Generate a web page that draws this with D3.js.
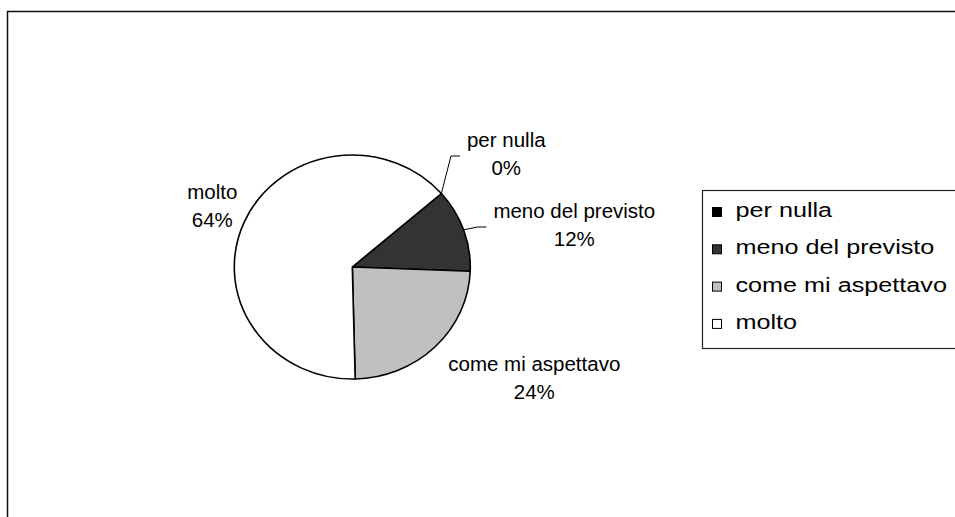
<!DOCTYPE html>
<html>
  <head>
    <meta http-equiv="Content-Type" content="text/html; charset=utf-8" />
    <style>
    body {
      margin: 0;
      background: #fff;
    }
    svg text {
      font-family: "Liberation Sans", Arial, sans-serif;
      fill: #000;
    }
    </style>
  </head>
  <body>
    <div id="chart"></div>
    <script src="https://d3js.org/d3.v7.min.js"></script>
    <script>

// data
var categories = ["per nulla", "meno del previsto", "come mi aspettavo", "molto"];
var percents = [0, 12, 24, 64];
var colours = ["#000000", "#333333", "#c0c0c0", "#ffffff"];

var width = 955, height = 517;

var svg = d3.select("#chart").append("svg")
    .attr("width", width)
    .attr("height", height);

// outer chart frame (runs off the right and bottom edge)
svg.append("rect")
    .attr("x", 7.5)
    .attr("y", 11.5)
    .attr("width", 1000)
    .attr("height", 600)
    .style("fill", "none")
    .style("stroke", "#111")
    .style("stroke-width", 1.5);

var cx = 352.3, cy = 267, rx = 118, ry = 112;
var startDeg = 49;

var pie = d3.pie()
    .sort(null)
    .value(function(d){ return d; })
    .startAngle(startDeg * Math.PI / 180)
    .endAngle(startDeg * Math.PI / 180 + 2 * Math.PI);

var arcs = pie(percents);

var arc = d3.arc()
    .innerRadius(0)
    .outerRadius(rx);

var pieG = svg.append("g")
    .attr("transform", "translate(" + cx + "," + cy + ") scale(1," + (ry / rx) + ")");

pieG.selectAll(".slice")
    .data(arcs)
  .enter().append("path")
    .attr("class", "slice")
    .attr("d", arc)
    .style("fill", function(d, i){ return colours[i]; })
    .style("stroke", "#000")
    .style("stroke-width", 1.6)
    .style("vector-effect", "non-scaling-stroke");

// point on the (elliptical) rim for an angle
function rim(a){
  return [cx + rx * Math.sin(a), cy - ry * Math.cos(a)];
}

// label block centres relative to pie centre, as Excel placed them
var labelOffset = {
  "per nulla": [154, -113],
  "meno del previsto": [222, -42],
  "come mi aspettavo": [182, 111],
  "molto": [-140, -61]
};
var withLeader = {"per nulla": true, "meno del previsto": true};

var labelSize = 20.5, lineGap = 28;

var labels = svg.append("g");

arcs.forEach(function(d, i){
  var name = categories[i];
  var off = labelOffset[name];
  var lx = cx + off[0], ly = cy + off[1];
  var t = labels.append("text")
      .attr("text-anchor", "middle")
      .style("font-size", labelSize + "px");
  t.append("tspan")
      .attr("x", lx)
      .attr("y", ly - lineGap / 2 + 7)
      .text(name);
  t.append("tspan")
      .attr("x", lx)
      .attr("y", ly + lineGap / 2 + 7)
      .text(Math.round(d.value) + "%");

  if (withLeader[name]) {
    var w = t.select("tspan").node().getComputedTextLength();
    var mid = (d.startAngle + d.endAngle) / 2;
    var p0 = rim(mid);
    var end = [lx - w / 2 - 7, ly + 2];
    var elbow = [end[0] - 9, end[1]];
    labels.append("path")
        .attr("d", d3.line()([p0, elbow, end]))
        .style("fill", "none")
        .style("stroke", "#000")
        .style("stroke-width", 1);
  }
});

// legend
var legX = 702.5, legY = 190.5, rowH = 37.3;

svg.append("rect")
    .attr("x", legX)
    .attr("y", legY)
    .attr("width", 300)
    .attr("height", 158)
    .style("fill", "#fff")
    .style("stroke", "#222")
    .style("stroke-width", 1.2);

var legend = svg.selectAll(".legend-item")
    .data(categories)
  .enter().append("g")
    .attr("class", "legend-item")
    .attr("transform", function(d, i){
      return "translate(" + legX + "," + (legY + 26.5 + i * rowH) + ")";
    });

legend.append("rect")
    .attr("x", 10)
    .attr("y", -9.5)
    .attr("width", 9)
    .attr("height", 9)
    .style("fill", function(d, i){ return colours[i]; })
    .style("stroke", "#000")
    .style("stroke-width", 1);

legend.append("text")
    .attr("transform", "translate(33,0) scale(1.2,1)")
    .style("font-size", "21px")
    .text(function(d){ return d; });

    </script>
  </body>
</html>
